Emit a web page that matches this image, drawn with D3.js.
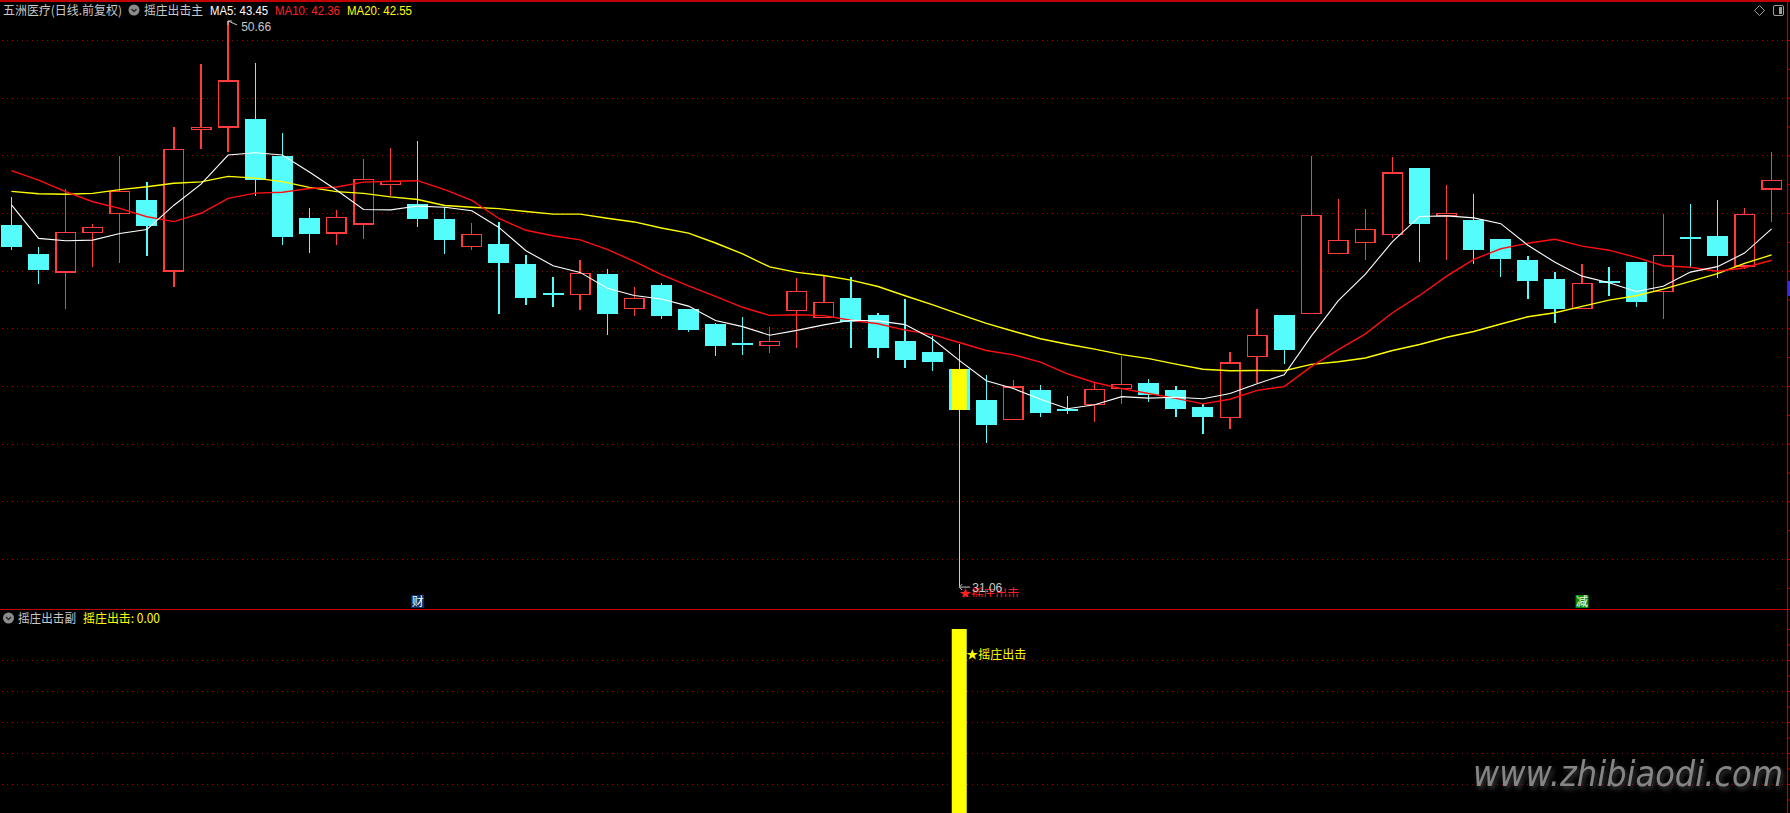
<!DOCTYPE html>
<html lang="zh-CN">
<head>
    <meta charset="UTF-8">
    <title>五洲医疗 摇庄出击</title>
    <script type="text/javascript" src="https://d3js.org/d3.v7.min.js"></script>
    <style>
        body { margin: 0; background: #000; overflow: hidden; }
        svg { display: block; }
    </style>
</head>
<body>
<script type="text/javascript">
    // 日K线（前复权），共66根
    let opens  = [43.58, 42.58, 41.96, 43.33, 43.99, 44.45, 41.98, 46.89, 46.99, 47.26,
                  45.98, 43.83, 43.30, 43.61, 44.98, 44.31, 43.79, 42.84, 42.92, 42.23,
                  41.22, 41.18, 41.88, 40.68, 41.50, 40.67, 40.15, 39.50, 39.41, 40.62,
                  40.37, 41.05, 40.46, 39.56, 39.18, 38.59, 37.51, 36.84, 37.86, 37.21,
                  37.36, 37.92, 38.10, 37.86, 37.27, 36.91, 39.03, 40.46, 40.52, 42.60,
                  42.98, 43.26, 45.56, 43.96, 43.76, 43.10, 42.37, 41.71, 40.69, 41.63,
                  42.30, 41.28, 43.18, 43.20, 42.17, 44.84];
    let highs  = [44.55, 42.82, 44.83, 43.62, 45.98, 45.06, 46.98, 49.17, 50.66, 49.20,
                  46.76, 44.17, 44.10, 45.86, 46.25, 46.50, 44.20, 43.65, 43.69, 42.54,
                  41.78, 42.36, 42.06, 41.43, 41.57, 40.67, 40.17, 40.39, 40.05, 41.74,
                  41.80, 41.77, 40.53, 41.02, 39.73, 39.46, 38.38, 38.21, 38.03, 37.65,
                  38.09, 39.04, 38.23, 38.00, 37.36, 39.17, 40.67, 40.46, 45.98, 44.47,
                  44.13, 45.94, 45.56, 44.97, 44.66, 43.10, 42.51, 41.94, 42.23, 42.14,
                  42.30, 43.96, 44.31, 44.45, 44.16, 46.12];
    let lows   = [42.72, 41.54, 40.68, 42.14, 42.28, 42.52, 41.42, 46.23, 46.13, 44.59,
                  42.89, 42.61, 42.89, 43.09, 44.59, 43.52, 42.59, 42.73, 40.51, 40.82,
                  40.75, 40.65, 39.78, 40.44, 40.33, 39.86, 39.05, 39.08, 39.15, 39.33,
                  40.35, 39.33, 38.98, 38.63, 38.53, 31.06, 36.03, 36.84, 36.93, 37.03,
                  36.76, 37.38, 37.45, 36.93, 36.32, 36.52, 38.09, 38.77, 40.52, 42.60,
                  42.38, 43.12, 42.31, 42.38, 42.23, 41.79, 41.03, 40.19, 40.69, 41.13,
                  40.75, 40.33, 42.08, 41.73, 42.06, 43.70];
    let closes = [42.83, 42.02, 43.33, 43.50, 44.75, 43.56, 46.21, 46.96, 48.58, 45.14,
                  43.17, 43.27, 43.85, 45.17, 45.09, 43.80, 43.07, 43.26, 42.28, 41.06,
                  41.20, 41.91, 40.51, 41.04, 40.44, 39.95, 39.40, 39.46, 39.55, 41.28,
                  40.90, 40.22, 39.33, 38.91, 38.84, 37.17, 36.66, 37.96, 37.07, 37.18,
                  37.88, 38.06, 37.70, 37.21, 36.93, 38.79, 39.76, 39.26, 43.92, 43.05,
                  43.43, 45.38, 43.63, 43.99, 42.73, 42.41, 41.65, 40.68, 41.56, 41.60,
                  40.92, 42.53, 43.15, 42.52, 43.95, 45.13];

    // 均线
    let ma5  = [44.28, 43.12, 43.04, 43.06, 43.29, 43.43, 44.27, 45.00, 46.01, 46.09,
                46.01, 45.42, 44.80, 44.12, 44.11, 44.24, 44.20, 44.08, 43.50, 42.69,
                42.17, 41.94, 41.39, 41.14, 41.02, 40.77, 40.27, 40.06, 39.76, 39.93,
                40.12, 40.28, 40.26, 40.13, 39.64, 38.89, 38.18, 37.91, 37.54, 37.21,
                37.35, 37.63, 37.58, 37.61, 37.56, 37.74, 38.08, 38.39, 39.73, 40.96,
                41.88, 43.01, 43.88, 43.90, 43.83, 43.63, 42.88, 42.29, 41.81, 41.58,
                41.28, 41.46, 41.95, 42.14, 42.61, 43.45];
    let ma10 = [45.47, 45.14, 44.74, 44.39, 44.16, 43.87, 43.70, 43.99, 44.51, 44.69,
                44.72, 44.85, 44.90, 45.07, 45.10, 45.12, 44.81, 44.44, 43.81, 43.40,
                43.21, 43.07, 42.74, 42.32, 41.86, 41.47, 41.11, 40.73, 40.45, 40.47,
                40.44, 40.28, 40.16, 39.94, 39.78, 39.51, 39.23, 39.08, 38.83, 38.42,
                38.12, 37.91, 37.74, 37.57, 37.38, 37.54, 37.85, 37.98, 38.67, 39.26,
                39.81, 40.54, 41.14, 41.81, 42.39, 42.76, 42.95, 43.09, 42.85, 42.71,
                42.46, 42.17, 42.12, 41.98, 42.10, 42.36];
    let ma20 = [44.75, 44.67, 44.65, 44.68, 44.81, 44.91, 45.03, 45.08, 45.27, 45.21,
                45.09, 44.89, 44.74, 44.68, 44.56, 44.47, 44.26, 44.20, 44.15, 44.05,
                43.96, 43.96, 43.82, 43.69, 43.48, 43.30, 42.96, 42.58, 42.13, 41.94,
                41.83, 41.67, 41.45, 41.13, 40.82, 40.49, 40.17, 39.90, 39.64, 39.45,
                39.28, 39.09, 38.95, 38.76, 38.58, 38.53, 38.54, 38.53, 38.75, 38.84,
                38.97, 39.23, 39.44, 39.69, 39.89, 40.15, 40.40, 40.54, 40.76, 40.98,
                41.13, 41.36, 41.63, 41.90, 42.25, 42.55];

    // 摇庄出击信号：K线序号与副图柱高
    let strikeIndex = [35];
    let strikeValue = [6];
    let strikeLast = 0.00;

    // 图上标记
    let markIndex = [15, 58];
    let markText  = ['财', '减'];
    let markFill  = ['#0b2d63', '#0a8a0a'];

    let width = 1790, height = 813;
    let cjk = '"Noto Sans CJK SC", sans-serif';
    let latin = '"Liberation Sans", Arial, sans-serif';
    let upColor = '#ff3b3b', downColor = '#54fcfc', frame = '#c00000';

    let svg = d3.select('body').append('svg')
        .attr('width', width)
        .attr('height', height);
    svg.append('rect').attr('width', width).attr('height', height).attr('fill', '#000');

    let x = d3.scaleLinear().domain([0, closes.length - 1]).range([11.5, 1771.6]);
    let y = d3.scaleLinear().domain([32, 50]).range([559, 40]);
    let ySub = d3.scaleLinear().domain([0, 6]).range([815, 629]);

    // 虚线网格
    let grid = svg.append('g')
        .attr('stroke', '#a00000')
        .attr('stroke-dasharray', '1,4')
        .attr('shape-rendering', 'crispEdges');
    grid.selectAll('line.main')
        .data(y.ticks(9))
        .enter().append('line').attr('class', 'main')
        .attr('x1', 2).attr('x2', 1787)
        .attr('y1', function (d) { return Math.round(y(d)) + 0.5; })
        .attr('y2', function (d) { return Math.round(y(d)) + 0.5; });
    grid.selectAll('line.sub')
        .data(ySub.ticks(6).filter(function (d) { return d > 0 && d < 6; }))
        .enter().append('line').attr('class', 'sub')
        .attr('x1', 2).attr('x2', 1787)
        .attr('y1', function (d) { return Math.round(ySub(d)) + 0.5; })
        .attr('y2', function (d) { return Math.round(ySub(d)) + 0.5; });

    // 边框与右侧刻度
    svg.append('rect').attr('x', 0).attr('y', 0).attr('width', width).attr('height', 2).attr('fill', frame);
    svg.append('line').attr('x1', 0).attr('x2', width).attr('y1', 609.5).attr('y2', 609.5)
        .attr('stroke', frame).attr('stroke-width', 1.2);
    svg.append('line').attr('x1', 1787.5).attr('x2', 1787.5).attr('y1', 0).attr('y2', height)
        .attr('stroke', frame).attr('stroke-width', 1.2);

    svg.append('g').attr('transform', 'translate(1787.5,0)')
        .call(d3.axisRight(y).tickValues(d3.range(31, 51)).tickSize(3).tickFormat(''))
        .call(function (g) { g.select('.domain').remove(); })
        .selectAll('line').attr('stroke', frame);
    svg.append('g').attr('transform', 'translate(1787.5,0)')
        .call(d3.axisRight(ySub).tickValues(d3.range(0.5, 6.1, 0.5)).tickSize(3).tickFormat(''))
        .call(function (g) { g.select('.domain').remove(); })
        .selectAll('line').attr('stroke', frame);
    svg.append('rect').attr('x', 1788).attr('y', 281).attr('width', 2).attr('height', 15).attr('fill', '#3030e0');

    // K线
    let idx = d3.range(closes.length);
    function isUp(i) { return closes[i] >= opens[i]; }
    function colorOf(i) { return isUp(i) ? upColor : downColor; }

    let bars = svg.append('g')
        .attr('shape-rendering', 'crispEdges')
        .selectAll('g')
        .data(idx)
        .enter()
        .append('g');
    bars.append('line')
        .attr('x1', function (i) { return x(i); })
        .attr('x2', function (i) { return x(i); })
        .attr('y1', function (i) { return y(highs[i]); })
        .attr('y2', function (i) { return y(Math.max(opens[i], closes[i])); })
        .attr('stroke', colorOf)
        .attr('stroke-width', 1.3);
    bars.append('line')
        .attr('x1', function (i) { return x(i); })
        .attr('x2', function (i) { return x(i); })
        .attr('y1', function (i) { return y(Math.min(opens[i], closes[i])); })
        .attr('y2', function (i) { return y(lows[i]); })
        .attr('stroke', colorOf)
        .attr('stroke-width', 1.3);
    bars.append('rect')
        .attr('x', function (i) { return x(i) - (isUp(i) ? 9.75 : 10.5); })
        .attr('width', function (i) { return isUp(i) ? 19.5 : 21; })
        .attr('y', function (i) { return y(Math.max(opens[i], closes[i])); })
        .attr('height', function (i) { return Math.max(Math.abs(y(opens[i]) - y(closes[i])), 2); })
        .attr('fill', function (i) { return isUp(i) ? '#000' : downColor; })
        .attr('stroke', function (i) { return isUp(i) ? upColor : 'none'; })
        .attr('stroke-width', 1.5);

    // 摇庄出击：主图黄色实体
    svg.append('g').selectAll('rect')
        .data(strikeIndex)
        .enter().append('rect')
        .attr('x', function (i) { return x(i) - 7.5; })
        .attr('width', 15)
        .attr('y', function (i) { return y(Math.max(opens[i], closes[i])); })
        .attr('height', function (i) { return Math.abs(y(opens[i]) - y(closes[i])); })
        .attr('fill', '#ffff00');

    // 均线
    let line = d3.line()
        .x(function (d, i) { return x(i); })
        .y(function (d) { return y(d); });
    [[ma20, '#ffff00', 1.4], [ma10, '#ff1010', 1.4], [ma5, '#ffffff', 1.1]].forEach(function (s) {
        svg.append('path')
            .attr('d', line(s[0]))
            .attr('fill', 'none')
            .attr('stroke', s[1])
            .attr('stroke-width', s[2]);
    });

    // 最高/最低价标注
    let hiIdx = highs.indexOf(d3.max(highs));
    let loIdx = lows.indexOf(d3.min(lows));
    let hx = x(hiIdx), hy = y(highs[hiIdx]);
    let lx = x(loIdx), ly = y(lows[loIdx]);

    svg.append('clipPath').attr('id', 'mainClip')
        .append('rect').attr('x', 0).attr('y', 0).attr('width', width).attr('height', 597);
    svg.append('text')
        .attr('clip-path', 'url(#mainClip)')
        .attr('x', lx).attr('y', ly + 12)
        .attr('font-family', cjk).attr('font-size', 12)
        .attr('fill', '#ff2020')
        .text('★摇庄出击');

    svg.append('path')
        .attr('d', 'M' + hx + ',' + hy + 'l9,4M' + hx + ',' + hy + 'l0,4M' + hx + ',' + hy + 'l4,0')
        .attr('stroke', '#c8c8c8').attr('fill', 'none');
    svg.append('text')
        .attr('x', hx + 13).attr('y', hy + 10.5)
        .attr('font-family', latin).attr('font-size', 12)
        .attr('fill', '#c8c8c8')
        .text(highs[hiIdx].toFixed(2));
    svg.append('path')
        .attr('d', 'M' + lx + ',' + (ly + 1) + 'l11,0M' + lx + ',' + (ly + 1) + 'l3,-3M' + lx + ',' + (ly + 1) + 'l3,3')
        .attr('stroke', '#c8c8c8').attr('fill', 'none');
    svg.append('text')
        .attr('x', lx + 13).attr('y', ly + 5.5)
        .attr('font-family', latin).attr('font-size', 12)
        .attr('fill', '#c8c8c8')
        .text(lows[loIdx].toFixed(2));

    // 财 / 减 标记
    let marks = svg.append('g').selectAll('g')
        .data(markIndex)
        .enter().append('g')
        .attr('transform', function (i) { return 'translate(' + (x(i) - 6.5) + ',595)'; });
    marks.append('rect')
        .attr('width', 13).attr('height', 13)
        .attr('fill', function (d, k) { return markFill[k]; });
    marks.append('text')
        .attr('x', 6.5).attr('y', 11)
        .attr('text-anchor', 'middle')
        .attr('font-family', cjk).attr('font-size', 12)
        .attr('fill', '#fff')
        .text(function (d, k) { return markText[k]; });

    // 副图柱
    svg.append('g').selectAll('rect')
        .data(strikeIndex)
        .enter().append('rect')
        .attr('x', function (i) { return x(i) - 7.5; })
        .attr('width', 15)
        .attr('y', function (i, k) { return ySub(strikeValue[k]); })
        .attr('height', function (i, k) { return ySub(0) - ySub(strikeValue[k]); })
        .attr('fill', '#ffff00');
    svg.append('g').selectAll('text')
        .data(strikeIndex)
        .enter().append('text')
        .attr('x', function (i) { return x(i) + 7; })
        .attr('y', 659)
        .attr('font-family', cjk).attr('font-size', 12)
        .attr('fill', '#ffff00')
        .text('★摇庄出击');

    // 标题栏
    function icon(cx, cy) {
        svg.append('circle').attr('cx', cx).attr('cy', cy).attr('r', 5.5).attr('fill', '#8c8c8c');
        svg.append('path')
            .attr('d', 'M' + (cx - 2.5) + ',' + (cy - 1) + 'l2.5,2.5l2.5,-2.5')
            .attr('stroke', '#2a2a2a').attr('stroke-width', 1.5).attr('fill', 'none');
    }
    function label(t, x0, y0, len, color, font) {
        svg.append('text')
            .attr('x', x0).attr('y', y0)
            .attr('font-family', font).attr('font-size', 12.5)
            .attr('fill', color)
            .attr('textLength', len)
            .attr('lengthAdjust', 'spacingAndGlyphs')
            .text(t);
    }
    let last = closes.length - 1;
    label('五洲医疗(日线.前复权)', 3, 15, 119, '#c8c8c8', cjk);
    icon(134, 10);
    label('摇庄出击主', 144, 15, 59, '#c8c8c8', cjk);
    label('MA5: ' + ma5[last].toFixed(2), 210, 14.5, 58, '#ffffff', latin);
    label('MA10: ' + ma10[last].toFixed(2), 275, 14.5, 65, '#ff2020', latin);
    label('MA20: ' + ma20[last].toFixed(2), 347, 14.5, 65, '#ffff00', latin);

    icon(8.5, 618);
    label('摇庄出击副', 18, 623, 58, '#c8c8c8', cjk);
    label('摇庄出击: ' + strikeLast.toFixed(2), 83, 623, 77, '#ffff00', cjk);

    // 右上角按钮
    svg.append('path').attr('d', 'M1759.5,5.5l5,5l-5,5l-5,-5z')
        .attr('stroke', '#a0a0a0').attr('fill', 'none');
    svg.append('rect').attr('x', 1773.5).attr('y', 5.5).attr('width', 10).attr('height', 10).attr('rx', 1.5)
        .attr('stroke', '#a0a0a0').attr('fill', 'none');
    svg.append('rect').attr('x', 1779).attr('y', 7).attr('width', 3).attr('height', 7).attr('fill', '#a0a0a0');

    // 水印
    let filter = svg.append('defs').append('filter').attr('id', 'wm')
        .attr('x', '-10%').attr('y', '-40%').attr('width', '120%').attr('height', '180%');
    filter.append('feDropShadow')
        .attr('dx', 2).attr('dy', 3).attr('stdDeviation', 2.5)
        .attr('flood-color', '#3c3c3c').attr('flood-opacity', 1);
    svg.append('text')
        .attr('x', 1473).attr('y', 786)
        .attr('font-family', '"DejaVu Sans", sans-serif')
        .attr('font-style', 'italic')
        .attr('font-size', 35)
        .attr('textLength', 310)
        .attr('lengthAdjust', 'spacingAndGlyphs')
        .attr('fill', '#858585')
        .attr('filter', 'url(#wm)')
        .text('www.zhibiaodi.com');
</script>
</body>
</html>
